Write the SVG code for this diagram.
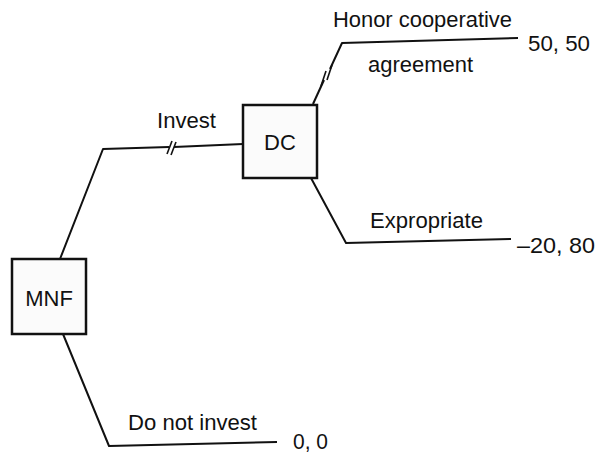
<svg xmlns="http://www.w3.org/2000/svg" width="601" height="454" viewBox="0 0 601 454">
<style>
.bg{fill:#fff}
.box{fill:#fbfbfb;stroke:#111;stroke-width:2.5}
.ln{fill:none;stroke:#111;stroke-width:2;stroke-linejoin:round}
.brk{fill:none;stroke:#111;stroke-width:1.6}
.t{font-family:"Liberation Sans",Arial,sans-serif;font-size:22px;fill:#111}
</style>
<rect class="bg" x="0" y="0" width="601" height="454"/>
<g id="connectors">
<polyline class="ln" points="60,259 103,149 169,147"/>
<polyline class="ln" points="174,147 243,144"/>
<polyline class="ln" points="313,104 324,80"/>
<polyline class="ln" points="330,69 342,43 518,38"/>
<polyline class="ln" points="311,178 346,243 511,239"/>
<polyline class="ln" points="63,334 109,446 277,442"/>
<line class="brk" x1="167" y1="154" x2="172" y2="141"/>
<line class="brk" x1="171" y1="155" x2="176" y2="142"/>
<line class="brk" x1="321" y1="86" x2="326" y2="71"/>
<line class="brk" x1="327" y1="80" x2="332" y2="65"/>
</g>
<g id="MNF">
<rect class="box" x="12" y="259" width="74" height="75"/>
<text class="t" x="49" y="306" text-anchor="middle">MNF</text>
</g>
<g id="DC">
<rect class="box" x="243" y="105" width="74" height="73"/>
<text class="t" x="280" y="150" text-anchor="middle">DC</text>
</g>
<g id="labels">
<text class="t" x="157" y="128" textLength="59" lengthAdjust="spacingAndGlyphs">Invest</text>
<text class="t" x="333" y="27" textLength="179" lengthAdjust="spacingAndGlyphs">Honor cooperative</text>
<text class="t" x="368" y="72" textLength="105" lengthAdjust="spacingAndGlyphs">agreement</text>
<text class="t" x="370" y="228" textLength="113" lengthAdjust="spacingAndGlyphs">Expropriate</text>
<text class="t" x="128" y="430" textLength="129" lengthAdjust="spacingAndGlyphs">Do not invest</text>
<text class="t" x="528" y="51" textLength="62" lengthAdjust="spacingAndGlyphs">50, 50</text>
<text class="t" x="517" y="253" textLength="78" lengthAdjust="spacingAndGlyphs">–20, 80</text>
<text class="t" x="293" y="449" textLength="35" lengthAdjust="spacingAndGlyphs">0, 0</text>
</g>
</svg>
